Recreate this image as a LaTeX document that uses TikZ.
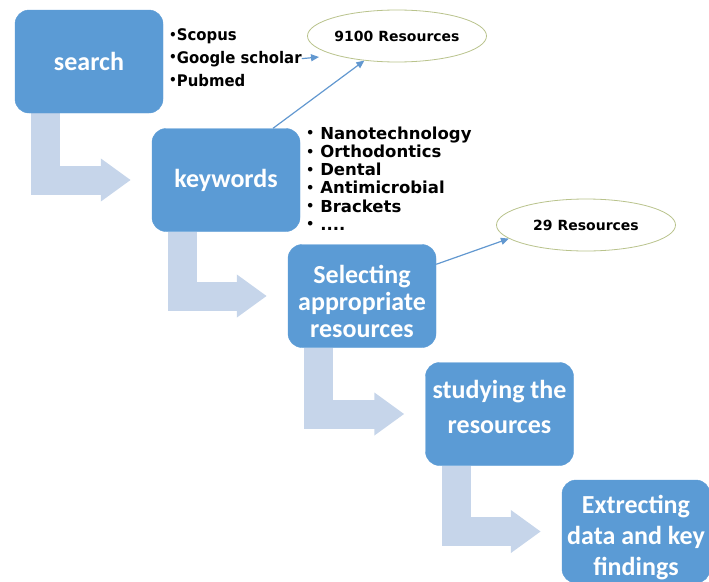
\documentclass[tikz,border=0pt]{standalone}
\usepackage{fontspec}
\usetikzlibrary{arrows.meta,shapes.geometric,backgrounds}
\newfontfamily\boxfont{Carlito}
\newfontfamily\listfont[FakeStretch=0.93]{DejaVu Sans}
\newfontfamily\kwfont{DejaVu Sans}
\definecolor{box_blue}{RGB}{91,155,213}
\definecolor{step_blue}{RGB}{198,213,234}
\definecolor{link_blue}{RGB}{98,152,208}
\definecolor{oval_green}{RGB}{185,195,140}
\newcommand{\kwdot}{\raisebox{0.15ex}{\fontsize{13}{13}\selectfont\textbullet}}

\begin{document}
\begin{tikzpicture}[x=1pt,y=-1pt]
    \tikzstyle{stage}=[fill=box_blue, draw=box_blue, rounded corners=14pt, minimum width=148pt, minimum height=103pt, inner sep=0pt, text=white, align=center, font=\boxfont\bfseries\fontsize{26}{28}\selectfont]
    \tikzstyle{source}=[inner sep=0pt, anchor=base west, font=\listfont\bfseries\fontsize{16}{18}\selectfont]
    \tikzstyle{kwlist}=[inner sep=0pt, anchor=north west, align=left, font=\kwfont\bfseries\fontsize{16.5}{18.2}\selectfont]
    \tikzstyle{count}=[ellipse, draw=oval_green, fill=white, line width=0.8pt, minimum width=179pt, minimum height=52pt, inner sep=0pt, font=\kwfont\bfseries\fontsize{14}{15}\selectfont]
    \tikzstyle{flow}=[draw=step_blue, line width=29pt, -{Triangle[length=30pt,width=41pt]}]
    \tikzstyle{link}=[draw=link_blue, line width=1.2pt, -{Triangle[length=8pt,width=7pt]}]

    \useasboundingbox (0,0) rectangle (709,581);

    \node[stage] (search)   at (89,61.5)  {search};
    \node[stage] (keywords) at (226,180)  {keywords};
    \node[stage, font=\boxfont\bfseries\fontsize{26}{27}\selectfont] (select) at (362,296) {\rule{0pt}{30pt}Selecting\\appropriate\\resources};
    \node[stage] (study)    at (499.5,414) {studying the\\[7pt]resources\rule[-14pt]{0pt}{0pt}};
    \node[stage, font=\boxfont\bfseries\fontsize{26}{31}\selectfont] (extract) at (636,531.5) {\rule{0pt}{31pt}Extrecting\\data and key\\findings};

    \node[count] (total)  at (397,36)  {9100 Resources};
    \node[count] (chosen) at (586,225) {29 Resources};

    \node[source] (scopus) at (169,40.5) {\kwdot Scopus};
    \node[source] (google) at (169,63)   {\kwdot Google scholar};
    \node[source] (pubmed) at (169,86)   {\kwdot Pubmed};

    \node[kwlist] (terms) at (306,126.5) {\kwdot\ Nanotechnology\\\kwdot\ Orthodontics\\\kwdot\ Dental\\\kwdot\ Antimicrobial\\\kwdot\ Brackets\\\kwdot\ ....};

    \begin{scope}[on background layer]
    \draw[flow] ([xshift=31pt]search.south west)   |- ([xshift=-21pt]keywords.west);
    \draw[flow] ([xshift=31pt]keywords.south west) |- ([xshift=-21pt]select.west);
    \draw[flow] ([xshift=31pt]select.south west)   |- ([xshift=-21pt]study.west);
    \draw[flow] ([xshift=31pt]study.south west)    |- ([xshift=-21pt]extract.west);
    \end{scope}

    \coordinate (gtip) at (319,57);
    \draw[link] (google.east) -- (gtip);
    \draw[link] ([xshift=47pt]keywords.north) -- (total.217);
    \draw[link] ([yshift=-20pt]select.north east) -- (chosen.190);
\end{tikzpicture}
\end{document}
